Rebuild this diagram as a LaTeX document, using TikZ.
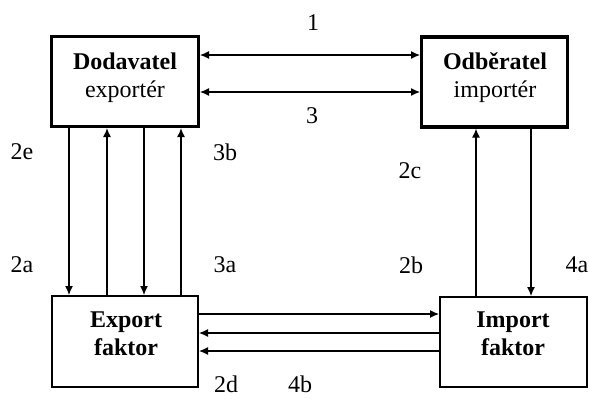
\documentclass[tikz,border=0pt]{standalone}
\usepackage{fontspec}
\setmainfont{Liberation Serif}
\usetikzlibrary{arrows.meta}
\tikzset{
  party/.style={draw, line width=1.6pt, inner sep=0pt},
  factor/.style={draw, line width=0.8pt, inner sep=0pt},
  txt/.style={inner sep=0pt, anchor=base, font=\fontsize{12}{14}\selectfont},
  tag/.style={inner sep=0pt, font=\fontsize{12}{14}\selectfont},
  link/.style={line width=0.6pt, arrows={-}, >={Latex[length=4.5pt,width=4pt]}},
}
\begin{document}
\begin{tikzpicture}[x=0.5pt, y=-0.5pt]
\useasboundingbox (0,0) rectangle (589,398);

% the four parties
\node[party, minimum width=73.4pt, minimum height=45pt] (dod) at (125,81.5) {};
\node[party, minimum width=72.9pt, minimum height=45pt] (odb) at (494.5,82) {};
\node[factor, minimum width=73.2pt, minimum height=45.7pt] (exf) at (125,341.5) {};
\node[factor, minimum width=73.7pt, minimum height=45.2pt] (imf) at (513.5,342) {};

% box captions
\node[txt] (dodA) at (125,69) {\bfseries Dodavatel};
\node[txt] (dodB) at (125,97) {exportér};
\node[txt] (odbA) at (495,69) {\bfseries Odběratel};
\node[txt] (odbB) at (495,97) {importér};
\node[txt] (exfA) at (126,327) {\bfseries Export};
\node[txt] (exfB) at (126,355) {\bfseries faktor};
\node[txt] (imfA) at (513,327) {\bfseries Import};
\node[txt] (imfB) at (513,355) {\bfseries faktor};

% levels of the connectors
\coordinate (hA) at (0,55);
\coordinate (hB) at (0,92);
\coordinate (hC) at (0,314);
\coordinate (hD) at (0,333);
\coordinate (hE) at (0,351);
\coordinate (vA) at (69,0);
\coordinate (vB) at (107,0);
\coordinate (vC) at (144,0);
\coordinate (vD) at (181,0);
\coordinate (vE) at (476,0);
\coordinate (vF) at (531,0);

% supplier <-> customer
\draw[link,<->] (dod.east |- hA) -- (odb.west |- hA);
\draw[link,<->] (dod.east |- hB) -- (odb.west |- hB);

% supplier <-> export factor
\draw[link,->] (dod.south -| vA) -- (exf.north -| vA);
\draw[link,<-] (dod.south -| vB) -- (exf.north -| vB);
\draw[link,->] (dod.south -| vC) -- (exf.north -| vC);
\draw[link,<-] (dod.south -| vD) -- (exf.north -| vD);

% customer <-> import factor
\draw[link,<-] (odb.south -| vE) -- (imf.north -| vE);
\draw[link,->] (odb.south -| vF) -- (imf.north -| vF);

% export factor <-> import factor
\draw[link,->] (exf.east |- hC) -- (imf.west |- hC);
\draw[link,<-] (exf.east |- hD) -- (imf.west |- hD);
\draw[link,<-] (exf.east |- hE) -- (imf.west |- hE);

% flow numbers
\node[tag] (t1)  at (313,23)  {1};
\node[tag] (t3)  at (312,116) {3};
\node[tag] (t2e) at (22,152)  {2e};
\node[tag] (t3b) at (225,152) {3b};
\node[tag] (t2c) at (410,171) {2c};
\node[tag] (t2a) at (22,265)  {2a};
\node[tag] (t3a) at (225,265) {3a};
\node[tag] (t2b) at (411,265) {2b};
\node[tag] (t4a) at (577,265) {4a};
\node[tag] (t2d) at (226,384) {2d};
\node[tag] (t4b) at (300,384) {4b};
\end{tikzpicture}
\end{document}
